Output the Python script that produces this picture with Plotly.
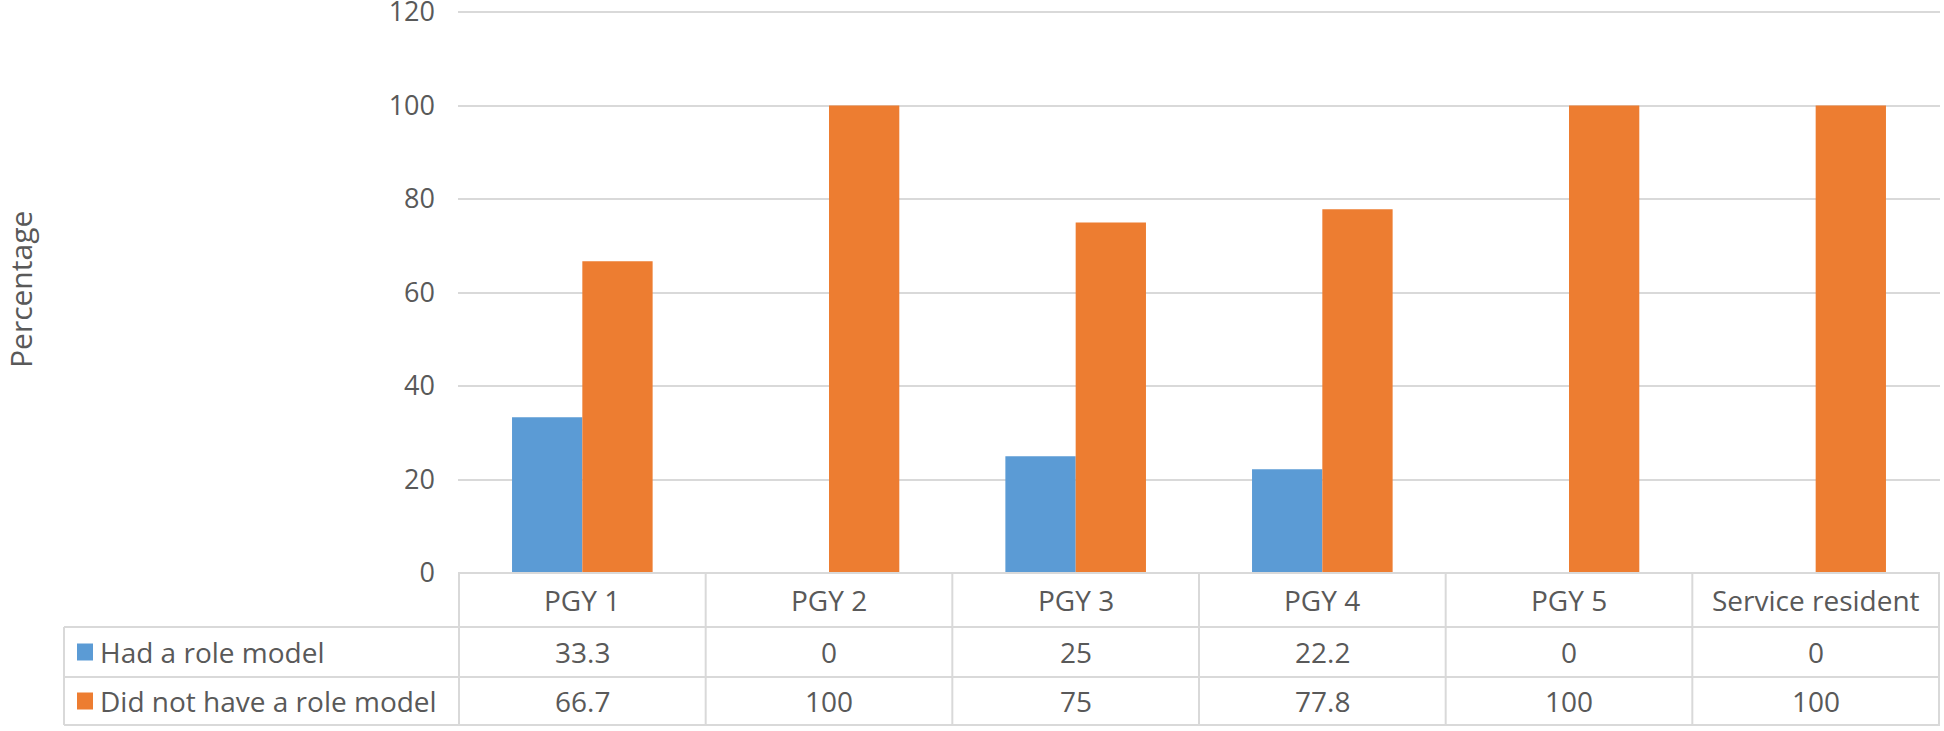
import plotly.graph_objects as go

# data
categories = ["PGY 1", "PGY 2", "PGY 3", "PGY 4", "PGY 5", "Service resident"]
had_role_model = [33.3, 0, 25, 22.2, 0, 0]
no_role_model = [66.7, 100, 75, 77.8, 100, 100]
series_names = ["Had a role model", "Did not have a role model"]
y_ticks = [0, 20, 40, 60, 80, 100, 120]

BLUE = "#5B9BD5"
ORANGE = "#ED7D31"
TEXT = "#595959"
GRID = "#D9D9D9"
FONT = "Open Sans"
FS = 28

W, H = 1944, 731
L, R, T, B = 458, 4, 4, 158
plot_w = W - L - R
plot_h = H - T - B
px_per_unit = (573 - 12) / 120
y_top = plot_h / px_per_unit


def py(pix):
    # pixel row -> paper y
    return (H - B - pix) / plot_h


def px(pix):
    # pixel column -> paper x
    return (pix - L) / plot_w


fig = go.Figure()
fig.add_trace(go.Bar(x=categories, y=had_role_model, name=series_names[0],
                     marker=dict(color=BLUE, line=dict(width=0))))
fig.add_trace(go.Bar(x=categories, y=no_role_model, name=series_names[1],
                     marker=dict(color=ORANGE, line=dict(width=0))))

# data table under the plot
row_bottoms = [py(627), py(677), py(725)]
table_left = px(64)
line = dict(color=GRID, width=2)
shapes = [dict(type="line", xref="paper", yref="paper", x0=0, x1=1,
               y0=0, y1=0, line=line)]
for yb in row_bottoms:
    shapes.append(dict(type="line", xref="paper", yref="paper", x0=table_left, x1=1,
                       y0=yb, y1=yb, line=line))
for i in range(len(categories) + 1):
    shapes.append(dict(type="line", xref="x", yref="paper", x0=i - 0.5, x1=i - 0.5,
                       y0=0, y1=row_bottoms[-1], line=line))
shapes.append(dict(type="line", xref="paper", yref="paper", x0=table_left, x1=table_left,
                   y0=row_bottoms[0], y1=row_bottoms[-1], line=line))

annotations = []
cell_font = dict(family=FONT, size=FS, color=TEXT)
header_y = row_bottoms[0] / 2
row_ys = [(row_bottoms[0] + row_bottoms[1]) / 2, (row_bottoms[1] + row_bottoms[2]) / 2]
for c in categories:
    annotations.append(dict(x=c, y=header_y, xref="x", yref="paper", text=c,
                            xanchor="center", yanchor="middle",
                            showarrow=False, font=cell_font))
for vals, ry, name, col in zip([had_role_model, no_role_model], row_ys, series_names, [BLUE, ORANGE]):
    for c, v in zip(categories, vals):
        annotations.append(dict(x=c, y=ry, xref="x", yref="paper", text=f"{v:g}",
                                xanchor="center", yanchor="middle",
                                showarrow=False, font=cell_font))
    annotations.append(dict(x=px(98), y=ry, xref="paper", yref="paper", text=name,
                            xanchor="left", yanchor="middle", showarrow=False,
                            font=cell_font))
    shapes.append(dict(type="rect", xref="paper", yref="paper", x0=px(77), x1=px(93),
                       y0=ry - 8.5 / plot_h, y1=ry + 8.5 / plot_h,
                       fillcolor=col, line=dict(width=0)))

annotations.append(dict(x=px(21), y=py(290), xref="paper", yref="paper", text="Percentage",
                        textangle=-90, xanchor="center", yanchor="middle", showarrow=False,
                        font=dict(family=FONT, size=30, color=TEXT)))

fig.update_layout(
    width=W, height=H,
    margin=dict(l=L, r=R, t=T, b=B, autoexpand=False),
    paper_bgcolor="white", plot_bgcolor="white",
    barmode="group", bargap=0.43, bargroupgap=0,
    showlegend=False,
    shapes=shapes, annotations=annotations,
    font=dict(family=FONT, size=FS, color=TEXT),
)
fig.update_xaxes(showticklabels=False, showgrid=False, zeroline=False, showline=False,
                 automargin=False)
fig.update_yaxes(range=[0, y_top], tickvals=y_ticks, showgrid=True, gridcolor=GRID, gridwidth=2,
                 zeroline=False, showline=False, ticklabelstandoff=22, automargin=False,
                 ticklabeloverflow="allow", tickfont=dict(family=FONT, size=27, color=TEXT))

# drop the default body margin so the figure sits at the page corner
fig.write_html("out.html", config={"displayModeBar": False},
               post_script="document.body.style.margin='0';")
